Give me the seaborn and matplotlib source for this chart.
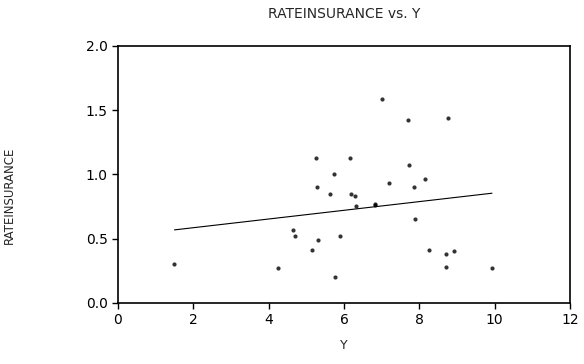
import numpy as np
import pandas as pd
import matplotlib
matplotlib.use("Agg")
import matplotlib.pyplot as plt
import seaborn as sns

# values
y_vals = [1.50, 4.25, 4.64, 4.69, 5.14, 5.31, 5.89, 5.76, 5.27, 5.73, 5.29, 5.62,
          7.00, 7.70, 8.75, 6.17, 7.72, 7.19, 8.14, 7.85, 6.18, 6.29, 6.31, 6.82,
          6.82, 7.88, 8.26, 8.72, 8.91, 8.71, 9.93]
rate_vals = [0.30, 0.27, 0.57, 0.52, 0.41, 0.49, 0.52, 0.20, 1.13, 1.00, 0.90, 0.85,
             1.59, 1.42, 1.44, 1.13, 1.07, 0.93, 0.96, 0.90, 0.85, 0.83, 0.75, 0.77,
             0.76, 0.65, 0.41, 0.38, 0.40, 0.28, 0.27]
x_ticks = [0, 2, 4, 6, 8, 10, 12]
y_ticks = [0.0, 0.5, 1.0, 1.5, 2.0]

df = pd.DataFrame({"Y": y_vals, "RATEINSURANCE": rate_vals})

sns.set_style("ticks")
plt.rcParams['font.family'] = ['DejaVu Sans']

fig = plt.figure(figsize=(5.84, 3.64), dpi=100)
ax = fig.add_axes([0.202, 0.168, 0.774, 0.706])

sns.regplot(data=df, x="Y", y="RATEINSURANCE", ax=ax, ci=None, color="black",
            scatter_kws={"s": 9, "linewidths": 0}, line_kws={"lw": 0.8})

ax.set_xlim(0, 12)
ax.set_ylim(0, 2.0)
ax.set_xticks(x_ticks)
ax.set_xticklabels([str(t) for t in x_ticks])
ax.set_yticks(y_ticks)
ax.set_yticklabels([f"{t:.1f}" for t in y_ticks])
ax.tick_params(labelsize=10, length=4, width=1, colors="black")
for s in ax.spines.values():
    s.set_linewidth(1.2)
    s.set_color("black")

ax.set_xlabel("Y", fontsize=9)
ax.xaxis.set_label_coords(0.5, -0.14)
ax.set_ylabel("RATEINSURANCE", fontsize=8.5)
ax.yaxis.set_label_coords(-0.225, 0.42)
ax.set_title("RATEINSURANCE vs. Y", fontsize=10, pad=20)

fig.savefig("out.png", dpi=100)
